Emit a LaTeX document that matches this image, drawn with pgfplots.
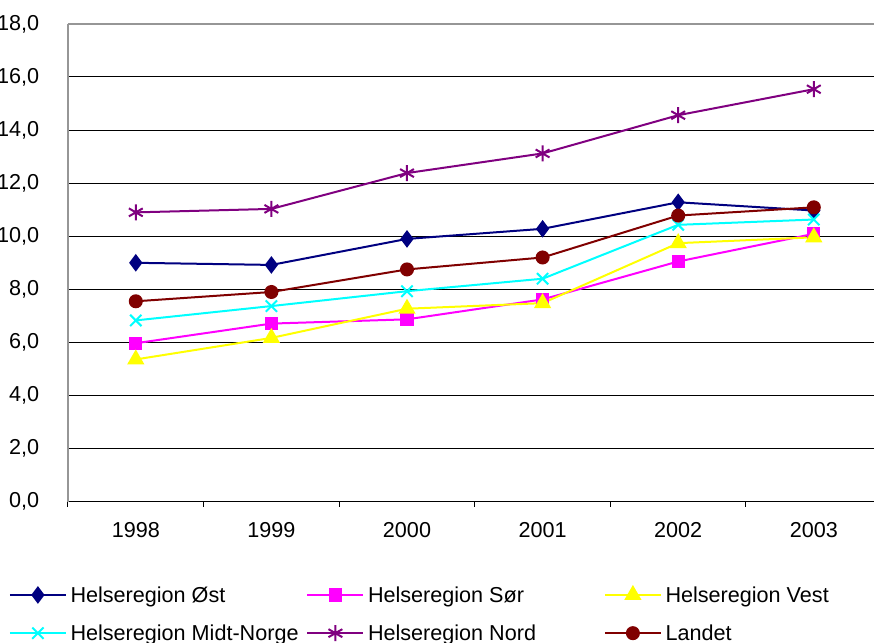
\documentclass[border=0pt]{standalone}
\usepackage{fontspec}
\setmainfont{Liberation Sans}
\usepackage{pgfplots}
\pgfplotsset{compat=1.18}
\definecolor{ost}{RGB}{0,0,128}
\definecolor{sor}{RGB}{255,0,255}
\definecolor{vest}{RGB}{255,255,0}
\definecolor{midt}{RGB}{0,255,255}
\definecolor{nord}{RGB}{128,0,128}
\definecolor{landet}{RGB}{128,0,0}
\definecolor{axgray}{RGB}{150,150,150}
\newcommand{\lbox}[1]{\makebox[119.75pt][l]{\hspace{1.8pt}\strut #1}}
\begin{document}
\begin{tikzpicture}
\useasboundingbox (0,0) rectangle (437pt,321.5pt);
\begin{axis}[
  at={(34pt,70.65pt)}, anchor=south west,
  scale only axis, width=403pt, height=238.9pt,
  xmin=-0.5, xmax=5.444, ymin=0, ymax=18,
  axis x line=bottom, axis y line=left,
  axis line style={-},
  x axis line style={black, line width=0.6pt},
  y axis line style={axgray, line width=0.8pt},
  xtick={0,1,2,3,4,5},
  xticklabels={1998,1999,2000,2001,2002,2003},
  major x tick style={draw=none},
  minor xtick={-0.5,0.5,1.5,2.5,3.5,4.5},
  minor x tick style={black, line width=0.5pt},
  minor tick length=2.5pt,
  tick align=outside,
  ytick={0,2,...,16},
  extra y ticks={18},
  extra y tick style={grid style={axgray, line width=0.8pt}},
  ytick style={draw=none},
  ymajorgrids,
  grid style={black, line width=0.5pt},
  /pgf/number format/assume math mode=true,
  yticklabel={\pgfmathprintnumber[fixed,fixed zerofill,precision=1,use comma]{\tick}},
  yticklabel style={inner sep=0pt, xshift=-10pt, font=\fontsize{10.8}{13}\selectfont},
  xticklabel style={inner sep=0pt, yshift=-6pt, font=\fontsize{10.8}{13}\selectfont},
  legend columns=3,
  legend style={at={(-0.0738,-0.1722)}, anchor=north west, draw=none,
    inner sep=0pt, font=\fontsize{10.8}{13}\selectfont,
    nodes={inner sep=0pt}, column sep=0pt, row sep=8.5pt},
  legend cell align=left,
  legend image code/.code={\draw[mark repeat=2,mark phase=2,#1] plot coordinates {(0pt,0pt) (14pt,0pt) (28pt,0pt)};},
  every axis plot/.append style={line width=1pt, mark options={solid}},
]
\addplot[color=ost, mark=diamond*, mark size=3.6pt] coordinates {(0,9.0) (1,8.92) (2,9.9) (3,10.28) (4,11.28) (5,10.97)};
\addlegendentry{\lbox{Helseregion Øst}}
\addplot[color=sor, mark=square*, mark size=2.8pt] coordinates {(0,5.97) (1,6.71) (2,6.87) (3,7.62) (4,9.05) (5,10.09)};
\addlegendentry{\lbox{Helseregion Sør}}
\addplot[color=vest, mark=triangle*, mark size=4pt] coordinates {(0,5.36) (1,6.17) (2,7.27) (3,7.48) (4,9.74) (5,9.96)};
\addlegendentry{\lbox{Helseregion Vest}}
\addplot[color=midt, mark=x, mark size=4pt] coordinates {(0,6.83) (1,7.37) (2,7.93) (3,8.4) (4,10.43) (5,10.63)};
\addlegendentry{\lbox{Helseregion Midt-Norge}}
\addplot[color=nord, mark=asterisk, mark size=4pt] coordinates {(0,10.9) (1,11.03) (2,12.38) (3,13.12) (4,14.56) (5,15.54)};
\addlegendentry{\lbox{Helseregion Nord}}
\addplot[color=landet, mark=*, mark size=3pt] coordinates {(0,7.55) (1,7.9) (2,8.75) (3,9.2) (4,10.78) (5,11.09)};
\addlegendentry{\lbox{Landet}}
\end{axis}
\end{tikzpicture}
\end{document}
